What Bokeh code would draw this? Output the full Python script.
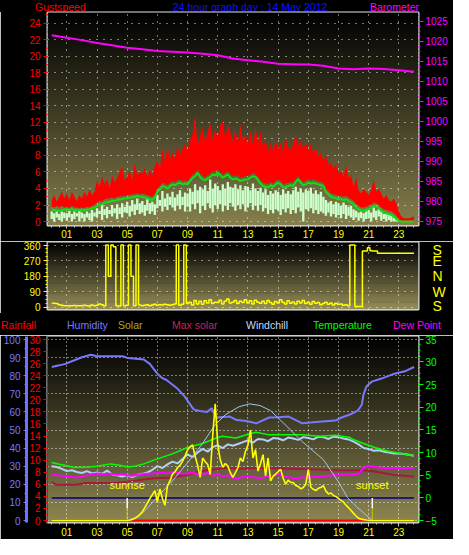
from bokeh.plotting import figure
from bokeh.layouts import column
from bokeh.models import Range1d, LinearAxis, FixedTicker, Label, BoxAnnotation, Div
from bokeh.embed import file_html
from bokeh.resources import INLINE

FONT = "Liberation Sans"
W = 453

# ---------------- data ----------------
tick_hours = [1, 3, 5, 7, 9, 11, 13, 15, 17, 19, 21, 23]
tick_labels = ["01", "03", "05", "07", "09", "11", "13", "15", "17", "19", "21", "23"]
half_hours = [i * 0.5 for i in range(49)]
t10 = [i / 6 for i in range(145)]   # 10-minute samples
t20 = [i / 3 for i in range(73)]    # 20-minute samples
hours = list(range(25))

# top panel : gust speed (red band), wind speed (pale band), average wind (green), barometer
gust_hi = [
    2.6, 3.2, 2.4, 3.0, 3.6, 2.8,  3.4, 2.6, 3.6, 3.0, 2.5, 3.2,  2.8, 3.6, 3.0, 3.9, 3.2, 3.6,
    5.0, 4.2, 5.4, 4.6, 5.2, 4.0,  5.6, 4.8, 5.2, 6.0, 6.7, 5.0,  5.4, 6.2, 5.0, 7.1, 5.6, 6.0,
    5.8, 6.5, 5.4, 6.2, 5.6, 6.8,  7.4, 6.4, 8.8, 7.2, 9.0, 7.6,  8.4, 7.6, 9.2, 8.0, 8.8, 9.4,
    8.6, 9.8, 10.6, 12.8, 9.2, 10.4,  11.4, 9.6, 10.8, 12.0, 9.8, 11.2,  10.2, 11.6, 12.2, 10.0, 11.8, 10.8,
    9.6, 11.2, 9.4, 11.8, 9.8, 10.6,  9.4, 11.0, 9.2, 11.3, 9.6, 11.0,  9.0, 10.0, 8.4, 9.4, 8.6, 9.8,
    8.8, 9.6, 8.4, 10.2, 9.0, 8.6,  9.4, 10.4, 9.2, 9.8, 8.8, 9.6,  8.6, 9.4, 8.2, 9.0, 8.0, 8.4,
    7.4, 8.0, 6.8, 7.2, 6.4, 7.0,  5.8, 6.2, 5.4, 6.9, 5.2, 5.6,  4.2, 5.3, 3.8, 3.4, 3.9, 3.6,
    3.2, 3.8, 5.1, 3.6, 4.0, 3.4,  2.8, 3.2, 2.6, 2.4, 2.8, 2.2,  1.2, 0.6, 0.4, 0.4, 0.4, 0.5,
    0.6]
gust_lo = [
    1.8, 1.7, 1.9, 1.7, 1.9, 1.7,  1.8, 1.6, 1.9, 1.7, 1.7, 1.6,  1.7, 1.6, 1.8, 1.7, 1.9, 2.0,
    2.3, 2.5, 2.4, 2.7, 2.8, 2.8,  2.9, 2.8, 3.0, 3.0, 3.1, 3.1,  3.2, 3.2, 3.3, 3.3, 3.4, 3.3,
    3.4, 3.3, 3.2, 3.1, 3.0, 3.3,  4.0, 4.3, 4.7, 4.6, 4.4, 4.7,  4.9, 4.8, 5.0, 5.1, 4.9, 5.0,
    4.9, 5.3, 5.7, 5.9, 6.3, 5.8,  5.5, 5.4, 5.6, 5.8, 6.1, 6.0,  6.3, 6.0, 5.7, 5.9, 6.1, 5.7,
    5.5, 5.6, 5.5, 5.3, 5.4, 5.5,  5.5, 5.7, 5.9, 5.8, 5.4, 5.0,  4.7, 4.6, 4.5, 4.8, 4.6, 4.9,
    5.1, 4.9, 4.5, 4.6, 4.7, 4.8,  4.7, 5.2, 5.5, 5.1, 4.8, 4.9,  5.1, 5.0, 5.1, 5.0, 4.9, 4.8,
    4.7, 4.0, 3.7, 3.4, 3.3, 3.2,  3.1, 3.1, 3.0, 3.1, 2.9, 2.7,  2.5, 2.1, 1.9, 1.7, 1.7, 1.8,
    1.9, 2.0, 2.3, 2.2, 2.0, 1.7,  1.5, 1.4, 1.3, 1.2, 1.0, 0.7,  0.3, 0.0, 0.0, 0.0, 0.0, 0.0,
    0.0]
wind_avg = [
    1.45, 1.4, 1.3, 1.3, 1.35, 1.45,  1.5, 1.45, 1.5, 1.4, 1.4, 1.35,  1.4, 1.4, 1.45, 1.5, 1.6, 1.7,
    1.9, 2.0, 2.1, 2.3, 2.3, 2.4,  2.5, 2.5, 2.6, 2.7, 2.7, 2.8,  2.8, 2.9, 2.9, 3.0, 3.1, 3.0,
    3.0, 2.9, 2.8, 2.7, 2.6, 2.9,  3.6, 3.9, 4.3, 4.2, 4.0, 4.3,  4.5, 4.4, 4.6, 4.7, 4.5, 4.6,
    4.5, 4.9, 5.3, 5.5, 5.9, 5.4,  5.1, 5.0, 5.2, 5.4, 5.7, 5.6,  5.9, 5.6, 5.3, 5.5, 5.7, 5.3,
    5.1, 5.2, 5.1, 4.9, 5.0, 5.1,  5.1, 5.3, 5.5, 5.4, 5.0, 4.6,  4.3, 4.2, 4.1, 4.4, 4.2, 4.5,
    4.7, 4.5, 4.1, 4.2, 4.3, 4.4,  4.3, 4.8, 5.1, 4.7, 4.4, 4.5,  4.7, 4.6, 4.7, 4.6, 4.5, 4.4,
    4.3, 3.6, 3.3, 3.0, 2.9, 2.8,  2.7, 2.7, 2.6, 2.7, 2.5, 2.3,  2.1, 1.7, 1.5, 1.3, 1.3, 1.4,
    1.5, 1.6, 1.9, 1.8, 1.6, 1.3,  1.1, 1.0, 0.9, 0.8, 0.6, 0.3,  0.1, 0.0, 0.0, 0.0, 0.0, 0.0,
    0.0]
wind_hi = [
    1.2, 1.0, 1.3, 0.9, 1.2, 1.1,  1.0, 1.3, 0.9, 1.2, 1.0, 1.3,  1.1, 0.9, 1.2, 1.0, 1.4, 1.1,
    1.6, 1.3, 2.0, 1.5, 1.8, 1.4,  2.0, 1.6, 2.1, 1.7, 2.2, 1.8,  2.4, 1.9, 2.6, 2.1, 2.8, 2.2,
    2.5, 2.0, 2.7, 2.2, 2.4, 2.1,  3.2, 2.6, 3.7, 2.8, 3.4, 3.0,  3.6, 2.9, 3.3, 3.8, 3.0, 3.5,
    3.4, 4.0, 3.6, 4.5, 3.8, 4.2,  3.9, 4.4, 3.7, 5.1, 4.0, 4.6,  4.3, 3.8, 4.5, 4.0, 4.8, 4.2,
    4.1, 4.5, 3.9, 4.4, 3.8, 4.3,  4.2, 3.8, 4.6, 4.0, 3.7, 4.1,  3.5, 3.9, 3.2, 3.7, 3.4, 3.8,
    3.6, 3.2, 3.9, 3.4, 3.7, 3.3,  3.8, 4.2, 3.6, 4.0, 3.5, 3.9,  3.7, 4.1, 3.4, 3.8, 3.3, 3.6,
    3.0, 2.6, 2.3, 2.5, 2.1, 2.4,  2.2, 1.9, 2.3, 2.0, 1.8, 1.9,  1.5, 1.3, 1.1, 1.2, 1.0, 1.2,
    1.4, 1.1, 1.7, 1.3, 1.5, 1.2,  0.9, 1.0, 0.8, 0.7, 0.5, 0.3,  0.0, 0.0, 0.0, 0.0, 0.0, 0.0,
    0.0]
wind_lo = [
    0.3, 0.0, 0.5, 0.2, 0.0, 0.4,  0.1, 0.5, 0.0, 0.3, 0.6, 0.0,  0.4, 0.0, 0.5, 0.2, 0.0, 0.6,
    0.5, 0.9, 0.2, 0.8, 0.4, 0.9,  0.6, 1.0, 0.3, 0.9, 0.5, 1.1,  1.0, 0.6, 1.2, 0.8, 1.4, 0.9,
    1.1, 0.7, 1.3, 0.9, 1.2, 0.8,  1.6, 1.9, 1.2, 1.8, 1.4, 2.0,  1.7, 1.3, 1.9, 1.5, 2.0, 1.2,
    1.8, 1.2, 2.1, 1.5, 2.2, 1.0,  1.9, 1.4, 2.2, 1.6, 1.1, 2.0,  1.5, 2.1, 1.2, 1.9, 1.4, 2.2,
    1.8, 1.3, 2.0, 1.5, 2.1, 1.2,  1.7, 2.2, 1.4, 1.9, 1.3, 2.0,  1.2, 1.6, 0.9, 1.4, 1.0, 1.5,
    1.3, 0.8, 1.5, 1.1, 1.6, 0.9,  1.4, 1.0, 1.7, 1.2, 0.0, 1.5,  1.3, 1.6, 1.0, 1.4, 0.9, 1.2,
    1.0, 0.7, 1.1, 0.6, 0.9, 0.5,  0.8, 0.4, 0.9, 0.3, 0.7, 0.5,  0.2, 0.5, 0.1, 0.4, 0.0, 0.3,
    0.4, 0.0, 0.5, 0.2, 0.6, 0.1,  0.3, 0.0, 0.2, 0.0, 0.0, 0.0,  0.0, 0.0, 0.0, 0.0, 0.0, 0.0,
    0.0]
baro_hpa = [1021.5, 1020.9, 1020.3, 1019.6, 1019.0, 1018.4, 1018.0, 1017.6, 1017.4, 1017.2,
            1016.9, 1016.5, 1015.7, 1015.3, 1014.9, 1014.4, 1014.3, 1014.2, 1013.9, 1013.2,
            1013.0, 1013.2, 1013.1, 1012.8, 1012.4]

# middle panel : wind direction (degrees)
wind_dir = [
    25, 24, 22, 16, 12, 10,  10, 9, 10, 11, 10, 9,  10, 12, 9, 8, 14, 10,
    12, 20, 15, 10, 360, 180,  360, 350, 10, 8, 360, 10,  12, 360, 180, 10, 360, 14,
    10, 12, 16, 10, 14, 18,  12, 16, 14, 18, 16, 12,  15, 20, 360, 12, 18, 360,
    22, 30, 14, 40, 20, 35,  18, 38, 25, 45, 22, 30,  28, 42, 20, 35, 48, 25,
    30, 40, 22, 36, 28, 44,  26, 38, 20, 42, 30, 24,  36, 22, 40, 28, 18, 34,
    26, 44, 30, 20, 38, 24,  32, 20, 36, 26, 40, 22,  30, 18, 34, 24, 28, 16,
    22, 30, 18, 26, 14, 24,  18, 20, 12, 15, 10, 360,  360, 5, 5, 5, 326, 326,
    345, 328, 326, 326, 313, 313,  313, 313, 313, 313, 313, 313,  313, 313, 313, 313, 313, 313,
    313]

# bottom panel
rain_mm = [0.0, 0.0, 0.0, 0.0, 0.0, 0.0, 0.0, 0.0, 0.0, 0.0, 0.0, 0.0, 0.0,
           0.0, 0.0, 0.0, 0.0, 0.0, 0.0, 0.0, 0.0, 0.0, 0.0, 0.0, 0.0]
hum_hours = [0.0, 0.5, 0.9, 1.5, 2.0, 2.6, 3.0, 4.0, 4.7, 5.0, 5.4, 6.1, 6.5, 6.75, 7.0, 7.3, 7.6,
             8.3, 8.8, 9.4, 9.8, 10.3, 10.6, 10.9, 11.8, 12.25, 12.9, 13.55, 14.4, 15.0, 15.7,
             16.6, 17.9, 18.8, 19.2, 19.8, 20.3, 20.55, 20.65, 20.85, 21.2, 21.85, 22.7, 23.4, 24.0]
hum_pct = [84.8, 85.7, 86.5, 88.5, 90.2, 91.6, 90.7, 90.7, 90.7, 89.8, 89.5, 88.9, 86.5, 83.8,
           81.1, 78.8, 77.6, 73.1, 68.6, 61.4, 60.5, 60.0, 62.0, 56.9, 57.4, 55.5, 55.0, 53.7,
           56.9, 57.0, 57.4, 53.7, 54.7, 55.2, 56.9, 58.7, 60.9, 64.1, 69.5, 74.0, 76.7, 78.4,
           81.1, 82.4, 84.8]
temp_hours = [0.0, 0.5, 1.0, 1.5, 2.5, 3.0, 3.9, 4.5, 5.0, 5.5, 6.1, 7.0, 8.0, 9.0, 10.0, 10.9,
              11.3, 12.2, 13.2, 13.55, 14.4, 15.5, 16.6, 17.7, 18.8, 19.7, 20.1, 20.75, 21.4,
              22.3, 23.15, 24.0]
temp_c = [7.8, 7.4, 7.1, 6.7, 6.8, 7.0, 7.5, 7.2, 6.8, 7.0, 7.5, 8.6, 9.7, 11.1, 12.0, 13.2,
          13.6, 13.2, 14.2, 14.5, 13.9, 13.9, 13.9, 13.6, 13.8, 13.4, 12.7, 11.9, 11.1, 10.3,
          9.8, 9.3]
windchill_c = [
    7.0, 6.8, 6.4,  5.9, 6.1, 5.7,  5.5, 5.9, 5.4,  5.6, 5.3, 6.0,  5.2, 5.0, 4.7,  5.0, 4.6, 5.1,
    5.3, 5.6, 6.2,  7.0, 6.6, 7.4,  8.0, 7.6, 8.6,  9.6, 9.0, 10.0,  10.8, 10.2, 11.2,  11.6, 11.0, 11.8,
    11.5, 11.9, 12.3,  12.7, 12.2, 13.0,  12.9, 12.5, 13.2,  13.1, 12.7, 13.3,  13.1, 12.8, 13.4,
    13.2, 12.9, 13.5,  13.4, 13.0, 13.5,  13.4, 13.1, 12.9,  12.4, 11.8, 11.0,  10.8, 10.4, 10.5,
    10.2, 10.0, 9.8,  9.8, 9.7, 9.5,  9.3]
dew_c = [
    5.2, 5.0, 4.9,  4.8, 4.6, 4.5,  4.7, 5.0, 5.2,  5.4, 5.2, 5.3,  5.3, 5.1, 5.2,  5.0, 4.9, 5.1,
    5.2, 5.3, 5.4,  5.5, 5.6, 5.4,  5.7, 5.5, 5.3,  5.4, 5.6, 5.2,  5.2, 5.5, 4.9,  5.2, 4.8, 5.0,
    4.5, 4.3, 4.6,  4.8, 4.6, 4.4,  4.5, 4.7, 4.9,  5.2, 4.8, 4.6,  4.3, 4.4, 4.6,  4.5, 4.7, 4.6,
    4.8, 4.9, 5.0,  5.0, 5.1, 5.2,  5.2, 5.3, 6.7,  7.1, 6.9, 6.7,  6.6, 6.5, 6.6,  6.6, 6.5, 6.6,
    6.6]
solar_wm2 = [
    0, 0, 0, 0, 0, 0,  0, 0, 0, 0, 0, 0,  0, 0, 0, 0, 0, 0,  0, 0, 0, 0, 0, 0,  0, 0, 0, 0, 0, 0,
    0, 2, 6, 12, 20, 32,  48, 70, 95, 119, 140, 163,  101, 172, 120, 83, 189, 215,
    252, 265, 287, 300, 322, 350,  385, 400, 411, 349, 300, 235,  340, 320, 305, 250, 464, 634,
    411, 330, 289, 310, 296, 260,  234, 260, 287, 340, 320, 375,  410, 491, 340, 385, 269, 310,
    358, 243, 340, 216, 240, 252,  265, 278, 230, 198, 220, 207,  207, 190, 185, 172, 180, 198,
    278, 181, 170, 163, 175, 180,  189, 160, 145, 150, 136, 130,  120, 110, 100, 83, 70, 55,
    39, 25, 12, 8, 5, 3,  2, 0, 0, 0, 0, 0,  0, 0, 0, 0, 0, 0,  0, 0, 0, 0, 0, 0,
    0]
theory_hours = [5.0, 5.5, 6.0, 6.5, 7.0, 8.0, 9.0, 10.0, 10.8, 11.5, 12.4, 13.1, 13.8, 14.5,
                15.5, 16.6, 18.0, 19.0, 19.6, 20.2, 20.8, 21.25]
theory_wm2 = [0, 15, 39, 83, 128, 216, 314, 420, 518, 575, 618, 634, 625, 597, 518, 429, 331,
              210, 124, 75, 32, 0]
maxsol_hours = [0, 0.3, 1.6, 2.2, 4.2, 5.0, 5.5, 6.2, 6.8, 8.0, 9.0, 10.0, 11.0, 11.5, 12.5,
                14.0, 16.0, 17.5, 19.0, 20.5, 21.2, 21.8, 22.7, 24.0]
maxsol_wm2 = [211, 195, 195, 204, 204, 211, 216, 225, 230, 234, 250, 269, 280, 287, 282, 287,
              282, 278, 274, 273, 269, 261, 248, 239]
sun_events = ["sunrise", "sunset"]
sun_hours = [5.0, 21.24]

# captions
title_row = [("Gustspeed", "#ff0000", 35, "left"),
             ("24 hour graph day : 14 May 2012", "#1010ff", 250, "center"),
             ("Barometer", "#ff00ff", 419, "right")]
legend_row = [("Rainfall", "#ff0000", 1, "left"), ("Humidity", "#7878ff", 67, "left"),
              ("Solar", "#a8a838", 118, "left"), ("Max solar", "#c02858", 172, "left"),
              ("Windchill", "#c0dcff", 246, "left"), ("Temperature", "#00ff00", 313, "left"),
              ("Dew Point", "#ff00ff", 393, "left")]

# ---------------- helpers ----------------
def gradient(p, rng, bottom_rgb, n=60):
    lo, hi = rng.start, rng.end
    dy = (hi - lo) / n
    for i in range(n):
        f = 1 - i / (n - 1)
        col = "#%02x%02x%02x" % tuple(int(round(c * f)) for c in bottom_rgb)
        p.add_layout(BoxAnnotation(bottom=lo + i * dy, top=lo + (i + 1.5) * dy,
                                   fill_color=col, fill_alpha=1.0, line_color=None,
                                   level="image"))


def style_axis(ax, color, size="10px", tick_out=4, minor_out=2, standoff=3, line_color=None,
               tick_color=None):
    ax.major_label_text_color = color
    ax.major_label_text_font = FONT
    ax.major_label_text_font_size = size
    ax.major_tick_line_color = tick_color or color
    ax.minor_tick_line_color = tick_color or color
    ax.major_tick_out = tick_out
    ax.major_tick_in = 0
    ax.minor_tick_out = minor_out
    ax.minor_tick_in = 0
    ax.major_label_standoff = standoff
    ax.axis_line_color = line_color


def base_fig(h, left, top, bottom, yr, **kw):
    p = figure(width=W, height=h, x_range=Range1d(-0.28, 24.3), y_range=yr, title=None,
               output_backend="svg", toolbar_location=None,
               min_border_left=left, min_border_right=35, min_border_top=top,
               min_border_bottom=bottom, background_fill_color="black",
               border_fill_color="black", outline_line_color="#e4e4e4",
               outline_line_width=2, **kw)
    p.grid.grid_line_color = "white"
    p.grid.grid_line_alpha = 0.9
    p.xgrid.ticker = FixedTicker(ticks=tick_hours)
    return p


def caption_strip(h, items, top):
    spans = []
    for text, col, x, align in items:
        if align == "left":
            pos = "left:%dpx;" % x
        elif align == "right":
            pos = "right:%dpx;" % (W - x)
        else:
            pos = "left:%dpx;transform:translateX(-50%%);" % x
        spans.append('<span style="position:absolute;top:%dpx;%scolor:%s;white-space:nowrap;">%s</span>'
                     % (top, pos, col, text))
    html = ('<div style="position:relative;width:%dpx;height:%dpx;background:#000;'
            "font-family:'Liberation Sans',Arial,sans-serif;font-size:10.5px;line-height:12px;\">"
            % (W, h)) + "".join(spans) + "</div>"
    return Div(text=html, width=W, height=h, margin=0, styles={"background-color": "black"})


xlabels = {h: s for h, s in zip(tick_hours, tick_labels)}

# ---------------- title strip ----------------
pT = caption_strip(11, title_row, 0)

# ---------------- top panel ----------------
pA = base_fig(230, 40, 1, 16, Range1d(-0.48, 25.3))
pA.extra_y_ranges = {"baro": Range1d(974.0, 1027.2)}
gradient(pA, pA.y_range, (133, 126, 76))
pA.ygrid.ticker = FixedTicker(ticks=list(range(0, 25, 2)))
pA.grid.grid_line_dash = "1 6"

pA.varea(x=t10, y1=gust_lo, y2=gust_hi, fill_color="#ff0000")
pA.vbar(x=t10, bottom=wind_lo, top=wind_hi, width=0.155, fill_color="#ccffcc", line_color=None)
pA.line(t10, wind_avg, line_color="#10e010", line_width=2)
pA.line(hours, baro_hpa, line_color="#ff00ff", line_width=2, y_range_name="baro")

ax = pA.yaxis[0]
ax.ticker = FixedTicker(ticks=list(range(0, 25, 2)), minor_ticks=list(range(0, 26)))
style_axis(ax, "#ff0000")
axr = LinearAxis(y_range_name="baro",
                 ticker=FixedTicker(ticks=list(range(975, 1030, 5)),
                                    minor_ticks=[975 + 1.25 * i for i in range(41)]))
style_axis(axr, "#ff00ff", tick_out=5, standoff=2)
pA.add_layout(axr, "right")
xa = pA.xaxis[0]
xa.ticker = FixedTicker(ticks=tick_hours, minor_ticks=half_hours)
xa.major_label_overrides = xlabels
style_axis(xa, "#ffff00", tick_out=3, minor_out=2, standoff=1, tick_color="#c8c8c8")

# ---------------- middle panel ----------------
pB = base_fig(72, 43, 1, 4, Range1d(-12, 375), x_axis_location=None)
gradient(pB, pB.y_range, (150, 142, 88))
pB.grid.grid_line_dash = "1 6"
pB.ygrid.ticker = FixedTicker(ticks=[0, 90, 180, 270, 360])
pB.step(t10, wind_dir, mode="center", line_color="#ffff00", line_width=1.5)
ay = pB.yaxis[0]
ay.ticker = FixedTicker(ticks=[0, 90, 180, 270, 360], minor_ticks=[22.5 * i for i in range(17)])
style_axis(ay, "#ffff00")
compass = LinearAxis(ticker=FixedTicker(ticks=[0, 90, 180, 270, 360], minor_ticks=[]))
compass.major_label_overrides = {0: "S", 90: "W", 180: "N", 270: "E", 360: "S"}
style_axis(compass, "#ffff00", size="14px", tick_out=0, minor_out=0, standoff=14)
compass.major_tick_line_color = None
compass.minor_tick_line_color = None
pB.add_layout(compass, "right")

# ---------------- legend strip ----------------
pL = caption_strip(22, legend_row, 6)

# ---------------- bottom panel ----------------
pC = base_fig(204, 43, 1, 17, Range1d(-0.32, 30.49))
pC.extra_y_ranges = {"hum": Range1d(-1.07, 101.63), "temp": Range1d(-5.43, 35.6),
                     "solar": Range1d(-10.5, 1000)}
gradient(pC, pC.y_range, (140, 133, 80))
pC.ygrid.ticker = FixedTicker(ticks=[3 * i for i in range(11)])
pC.grid.grid_line_dash = "1 3"

pC.line(hours, rain_mm, line_color="#ff0000", line_width=2)
pC.line(hum_hours, hum_pct, line_color="#7878ff", line_width=2, y_range_name="hum")
pC.line(maxsol_hours, maxsol_wm2, line_color="#a8183e", line_width=2, y_range_name="solar")
pC.line(t20, windchill_c, line_color="#b0d0f4", line_width=2, y_range_name="temp")
pC.line(temp_hours, temp_c, line_color="#00ff00", line_width=1.5, y_range_name="temp")
pC.line(t20, dew_c, line_color="#ff00ff", line_width=2, y_range_name="temp")
pC.line([t10[0], t10[-1]], [0, 0], line_color="#000080", line_width=1.5, y_range_name="temp")
pC.line(theory_hours, theory_wm2, line_color="#a4c4ec", line_width=1, y_range_name="solar")
pC.line(t10, solar_wm2, line_color="#ffff00", line_width=1.6, y_range_name="solar")
MARK_SPLIT = -2.3
pC.segment(x0=sun_hours, y0=[0, 0], x1=sun_hours, y1=[MARK_SPLIT, MARK_SPLIT],
           line_color="white", line_width=1.5, y_range_name="temp")
pC.segment(x0=sun_hours, y0=[MARK_SPLIT, MARK_SPLIT], x1=sun_hours, y1=[-5, -5],
           line_color="#ffff00", line_width=1, line_dash="1 1", y_range_name="temp")
for name, h in zip(sun_events, sun_hours):
    pC.add_layout(Label(x=h, y=0, y_range_name="temp", y_offset=7, text=name,
                        text_color="#ffff00", text_font=FONT, text_font_size="11px",
                        text_align="center", text_baseline="bottom"))

ar = pC.yaxis[0]
ar.ticker = FixedTicker(ticks=list(range(0, 31, 2)), minor_ticks=list(range(0, 31)))
style_axis(ar, "#ff0000", line_color="#ff0000")
ah = LinearAxis(y_range_name="hum",
                ticker=FixedTicker(ticks=list(range(0, 101, 10)),
                                   minor_ticks=list(range(0, 101, 5))))
style_axis(ah, "#7878ff", tick_out=3, minor_out=2, standoff=3, line_color="#7070ff")
ah.axis_line_width = 3
pC.add_layout(ah, "left")
at = LinearAxis(y_range_name="temp",
                ticker=FixedTicker(ticks=list(range(-5, 36, 5)),
                                   minor_ticks=[-5 + 1.25 * i for i in range(33)]))
style_axis(at, "#00ff00", tick_out=5, standoff=2)
pC.add_layout(at, "right")
xc = pC.xaxis[0]
xc.ticker = FixedTicker(ticks=tick_hours, minor_ticks=half_hours)
xc.major_label_overrides = xlabels
style_axis(xc, "#ffff00", tick_out=4, minor_out=2, standoff=1, tick_color="#c8c8c8")

layout = column(pT, pA, pB, pL, pC)
open("out.html", "w").write(file_html(layout, INLINE))
